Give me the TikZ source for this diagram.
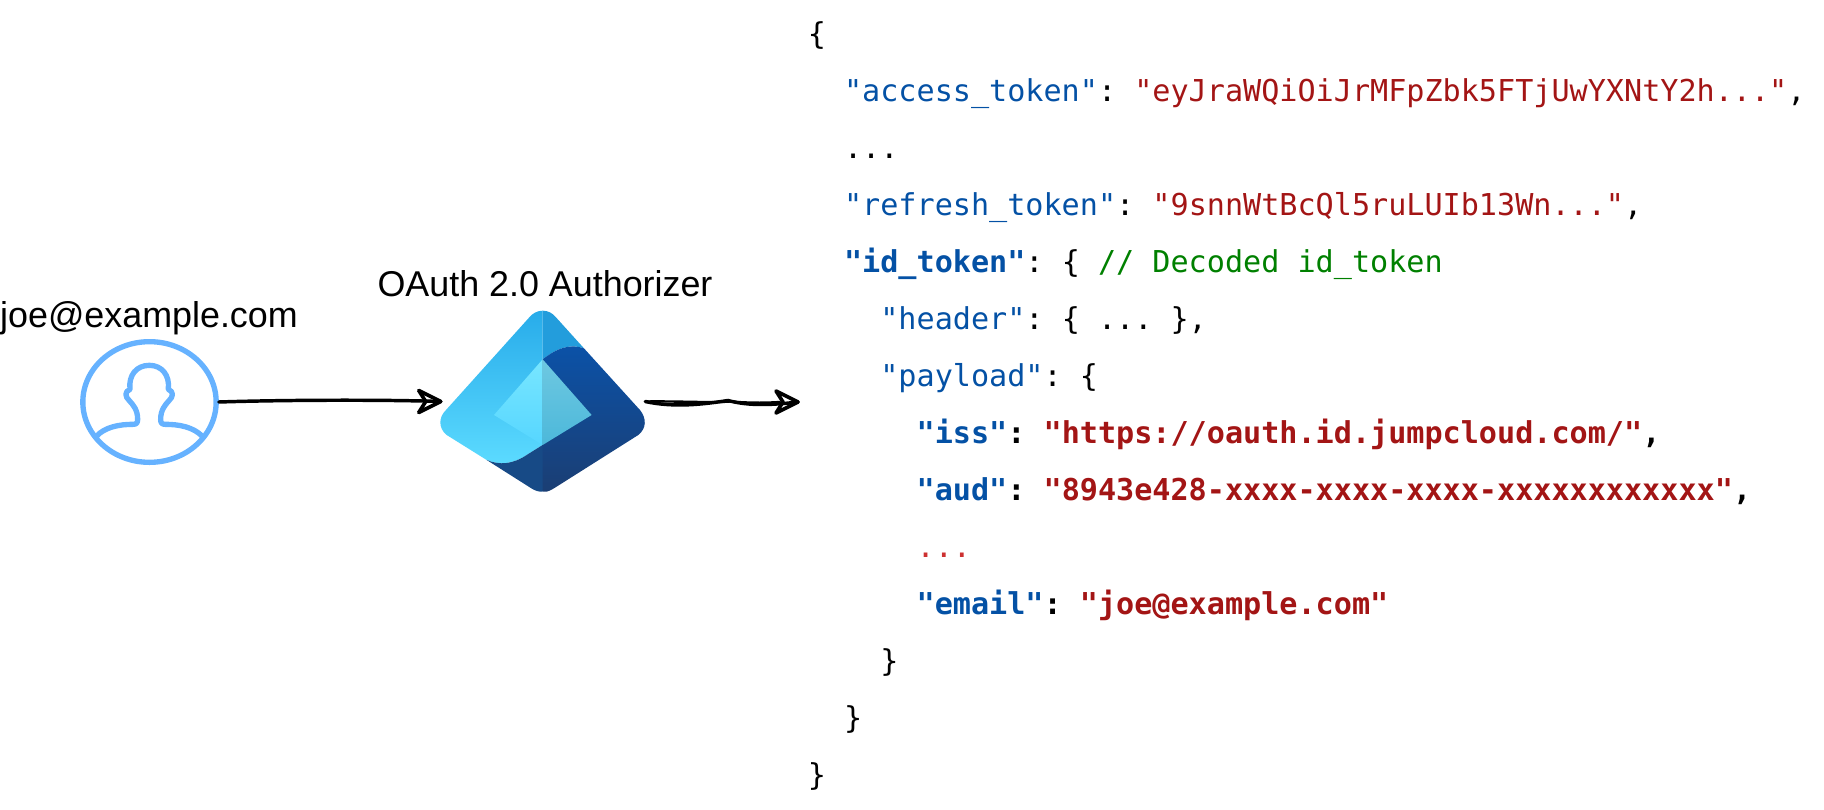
\documentclass[tikz,border=0pt]{standalone}
\usepackage{fontspec}
\usetikzlibrary{positioning,shapes.geometric}

\setmainfont{Liberation Sans}
\newfontfamily\jsonfont{DejaVu Sans Mono}
\frenchspacing

\definecolor{keyblue}{HTML}{0451A5}
\definecolor{strred}{HTML}{A31515}
\definecolor{comgreen}{HTML}{008000}
\definecolor{dotred}{HTML}{CD3131}
\definecolor{userblue}{HTML}{66B2FF}

\newcommand{\jk}[1]{\textcolor{keyblue}{#1}}
\newcommand{\js}[1]{\textcolor{strred}{#1}}
% open hand-drawn head, #1 is the tip
\newcommand{\sketchhead}[1]{
    \draw[sketchtip] ([shift={(-22,-11)}]#1) -- (#1) -- ([shift={(-22,11)}]#1) -- ([shift={(-15,0)}]#1) -- cycle;
}

\tikzset{
    jsonline/.style={anchor=base west, inner sep=0pt, font=\jsonfont\fontsize{22.6}{27}\selectfont},
    boldline/.style={jsonline, font=\jsonfont\bfseries\fontsize{22.6}{27}\selectfont},
    titlelabel/.style={anchor=base, inner sep=0pt, font=\fontsize{26.9}{32}\selectfont},
    sketchline/.style={line width=2.6pt, line cap=round},
    sketchstroke/.style={line width=1.8pt, line cap=round},
    sketchtip/.style={line width=2.7pt, line join=round},
}

\begin{document}
\begin{tikzpicture}[x=0.75pt,y=-0.75pt]
    \useasboundingbox (0,0) rectangle (1824,810);

    % user icon
    \node[draw=userblue, line width=4pt, ellipse, inner sep=0pt,
        minimum width=100pt, minimum height=90.5pt] (user) at (149.5,402) {};
    \begin{scope}[shift={(70,330)},scale=0.3333]
        \draw[userblue, line width=4pt, line join=round]
            (78,320) .. controls (105,290) and (150,283) .. (190,283)
            .. controls (200,283) and (203,278) .. (203,268)
            .. controls (203,240) and (190,225) .. (178,212)
            .. controls (165,200) and (163,185) .. (180,178)
            .. controls (175,135) and (200,106) .. (238,106)
            .. controls (275,106) and (300,135) .. (295,178)
            .. controls (312,185) and (310,200) .. (297,212)
            .. controls (285,225) and (272,240) .. (272,268)
            .. controls (272,278) and (275,283) .. (285,283)
            .. controls (325,283) and (370,290) .. (398,320);
    \end{scope}
    \node[titlelabel] (userlabel) at (149,327) {joe@example.com};

    % authorizer logo
    \node[inner sep=0pt, minimum width=153pt, minimum height=135.75pt] (authorizer) at (543,401.5) {};
    \begin{scope}[shift={(430,300)},scale=0.3333]
        % left light face
        \shade[top color={rgb,255:red,40;green,172;blue,234},
            bottom color={rgb,255:red,92;green,219;blue,255}]
            (338,32) -- (338,435) -- (290,465)
            .. controls (250,492) and (210,497) .. (170,480)
            -- (50,405) .. controls (25,385) and (25,352) .. (48,330)
            -- (298,52) .. controls (308,40) and (322,32) .. (338,32) -- cycle;
        % right top face
        \fill[fill={rgb,255:red,35;green,157;blue,220}]
            (338,32) .. controls (355,32) and (368,40) .. (378,52)
            -- (462,145) .. controls (420,130) and (380,145) .. (338,178) -- cycle;
        % right dark face
        \shade[top color={rgb,255:red,11;green,82;blue,168}, middle color={rgb,255:red,11;green,76;blue,158},
            bottom color={rgb,255:red,27;green,62;blue,115}]
            (338,178) .. controls (380,145) and (420,130) .. (462,145)
            -- (630,330) .. controls (650,355) and (650,385) .. (625,405)
            -- (372,565) .. controls (350,578) and (345,576) .. (338,575) -- cycle;
        % left dark face
        \fill[fill={rgb,255:red,23;green,74;blue,134}]
            (338,435) -- (338,575) .. controls (326,576) and (315,572) .. (304,565)
            -- (170,480) .. controls (210,497) and (250,492) .. (290,465) -- cycle;
        % inner diamond
        \shade[top color={rgb,255:red,120;green,230;blue,255}, bottom color={rgb,255:red,86;green,214;blue,255}]
            (338,178) -- (192,345) -- (338,435) -- cycle;
        \shade[top color={rgb,255:red,110;green,200;blue,225}, bottom color={rgb,255:red,76;green,184;blue,218}]
            (338,178) -- (485,345) -- (338,435) -- cycle;
    \end{scope}
    \node[titlelabel] (authlabel) at (545,296.7) {OAuth 2.0 Authorizer};

    % arrows
    \coordinate (tipout) at (798,402);
    \draw[sketchline] (user.east) .. controls (280,400) and (380,399.5) .. (authorizer.west);
    \sketchhead{authorizer.west}
    \draw[sketchline] (authorizer.east) .. controls (675,408) and (705,404) .. (728,400.5)
        .. controls (745,405) and (765,406) .. (tipout);
    \draw[sketchstroke] (authorizer.east) .. controls (680,401) and (710,403) .. (730,401.5)
        .. controls (750,403) and (765,403) .. (780,402);
    \sketchhead{tipout}

    % token response
    \node[jsonline] (openbrace) at (807.5,44) {\{};
    \node[jsonline] (accesstoken) at (807.5,101) {\ \ \jk{"access\_token"}: \js{"eyJraWQiOiJrMFpZbk5FTjUwYXNtY2h..."},};
    \node[jsonline] (elided) at (807.5,158) {\ \ ...};
    \node[jsonline] (refreshtoken) at (807.5,215) {\ \ \jk{"refresh\_token"}: \js{"9snnWtBcQl5ruLUIb13Wn..."},};
    \node[jsonline] (idtoken) at (807.5,272) {\ \ \jk{\bfseries "id\_token"}: \{ \textcolor{comgreen}{// Decoded id\_token}};
    \node[jsonline] (header) at (807.5,329) {\ \ \ \ \jk{"header"}: \{ ... \},};
    \node[jsonline] (payload) at (807.5,386) {\ \ \ \ \jk{"payload"}: \{};
    \node[boldline] (iss) at (807.5,443) {\ \ \ \ \ \ \jk{"iss"}: \js{"https://oauth.id.jumpcloud.com/"},};
    \node[boldline] (aud) at (807.5,500) {\ \ \ \ \ \ \jk{"aud"}: \js{"8943e428-xxxx-xxxx-xxxx-xxxxxxxxxxxx"},};
    \node[jsonline] (moreclaims) at (807.5,557) {\ \ \ \ \ \ \textcolor{dotred}{...}};
    \node[boldline] (email) at (807.5,614) {\ \ \ \ \ \ \jk{"email"}: \js{"joe@example.com"}};
    \node[jsonline] (closepayload) at (807.5,671) {\ \ \ \ \}};
    \node[jsonline] (closeid) at (807.5,728) {\ \ \}};
    \node[jsonline] (closebrace) at (807.5,785) {\}};
\end{tikzpicture}
\end{document}
